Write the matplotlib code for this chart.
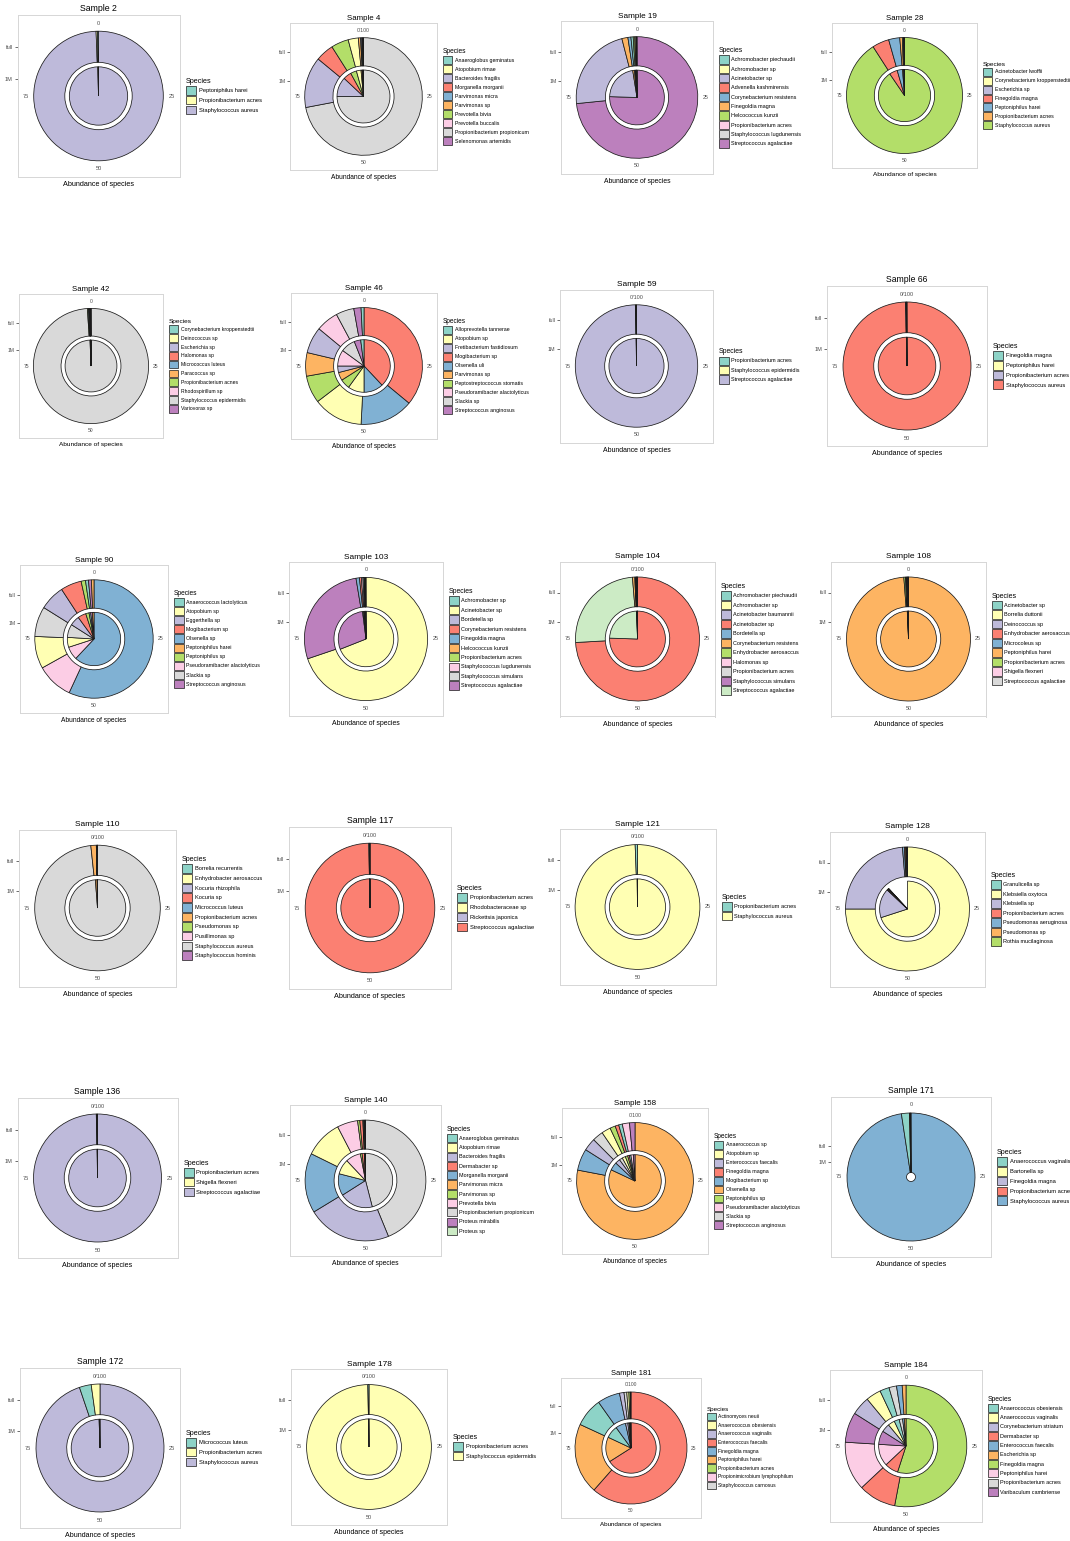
import matplotlib
matplotlib.use("Agg")
import matplotlib.pyplot as plt
from matplotlib.patches import Patch

plt.rcParams['font.family'] = ['Liberation Sans', 'DejaVu Sans']

FIG_W, FIG_H, DPI = 1070, 1541, 100
SET3 = ["#8DD3C7", "#FFFFB3", "#BEBADA", "#FB8072", "#80B1D3", "#FDB462",
        "#B3DE69", "#FCCDE5", "#D9D9D9", "#BC80BD", "#CCEBC5", "#FFED6F"]

# Species of every sample, listed in the clockwise stacking order, with the
# relative abundance (%) from the full run and from the 1M subsample.
species_2 = ["Staphylococcus aureus", "Propionibacterium acnes", "Peptoniphilus harei"]
full_2 = [99.4, 0.35, 0.25]
m1_2 = [99.6, 0.3, 0.1]
top_2 = "0"

species_4 = ["Propionibacterium propionicum", "Bacteroides fragilis", "Morganella morganii",
             "Prevotella bivia", "Atopobium rimae", "Parvimonas sp", "Parvimonas micra",
             "Prevotella buccalis", "Anaeroglobus geminatus", "Selenomonas artemidis"]
full_4 = [72.0, 14.0, 5.0, 4.8, 2.8, 0.6, 0.3, 0.2, 0.2, 0.1]
m1_4 = [75.0, 12.0, 5.0, 3.7, 2.8, 0.7, 0.3, 0.2, 0.2, 0.1]
top_4 = "0/100"

species_19 = ["Streptococcus agalactiae", "Acinetobacter sp", "Finegoldia magna",
              "Corynebacterium resistens", "Achromobacter piechaudii", "Helcococcus kunzii",
              "Achromobacter sp", "Propionibacterium acnes", "Staphylococcus lugdunensis",
              "Advenella kashmirensis"]
full_19 = [73.4, 22.6, 1.6, 0.8, 0.6, 0.4, 0.3, 0.2, 0.1, 0.0]
m1_19 = [75.5, 22.0, 1.0, 0.5, 0.4, 0.2, 0.2, 0.1, 0.1, 0.0]
top_19 = "0"

species_28 = ["Staphylococcus aureus", "Finegoldia magna", "Peptoniphilus harei",
              "Propionibacterium acnes", "Acinetobacter lwoffii",
              "Corynebacterium kroppenstedtii", "Escherichia sp"]
full_28 = [90.9, 4.7, 3.1, 0.7, 0.3, 0.2, 0.1]
m1_28 = [90.5, 5.0, 3.3, 0.7, 0.3, 0.1, 0.1]
top_28 = "0"

species_42 = ["Staphylococcus epidermidis", "Propionibacterium acnes", "Micrococcus luteus",
              "Corynebacterium kroppenstedtii", "Deinococcus sp", "Escherichia sp",
              "Halomonas sp", "Paracoccus sp", "Rhodospirillum sp", "Variovorax sp"]
full_42 = [99.0, 0.3, 0.2, 0.1, 0.1, 0.1, 0.05, 0.05, 0.05, 0.05]
m1_42 = [99.4, 0.2, 0.1, 0.1, 0.05, 0.05, 0.05, 0.05, 0.0, 0.0]
top_42 = "0"

species_46 = ["Mogibacterium sp", "Olsenella uli", "Atopobium sp", "Peptostreptococcus stomatis",
              "Parvimonas sp", "Fretibacterium fastidiosum", "Pseudoramibacter alactolyticus",
              "Slackia sp", "Streptococcus anginosus", "Alloprevotella tannerae"]
full_46 = [36.0, 14.8, 13.8, 7.6, 6.5, 7.3, 6.2, 5.0, 2.0, 0.8]
m1_46 = [38.0, 12.0, 10.0, 6.0, 5.0, 4.0, 10.0, 9.0, 4.0, 2.0]
top_46 = "0"

species_59 = ["Streptococcus agalactiae", "Propionibacterium acnes", "Staphylococcus epidermidis"]
full_59 = [99.7, 0.2, 0.1]
m1_59 = [99.8, 0.1, 0.1]
top_59 = "0/100"

species_66 = ["Staphylococcus aureus", "Propionibacterium acnes", "Finegoldia magna",
              "Peptoniphilus harei"]
full_66 = [99.6, 0.2, 0.1, 0.1]
m1_66 = [99.7, 0.1, 0.1, 0.1]
top_66 = "0/100"

species_90 = ["Olsenella sp", "Pseudoramibacter alactolyticus", "Atopobium sp", "Slackia sp",
              "Eggerthella sp", "Mogibacterium sp", "Peptoniphilus sp",
              "Anaerococcus lactolyticus", "Streptococcus anginosus", "Peptoniphilus harei"]
full_90 = [56.9, 10.0, 8.8, 8.2, 6.9, 5.7, 1.2, 0.8, 0.8, 0.7]
m1_90 = [62.0, 8.0, 6.0, 8.0, 6.0, 5.0, 2.0, 1.0, 1.0, 1.0]
top_90 = "0"

species_103 = ["Acinetobacter sp", "Streptococcus agalactiae", "Finegoldia magna",
               "Corynebacterium resistens", "Staphylococcus lugdunensis", "Achromobacter sp",
               "Bordetella sp", "Helcococcus kunzii", "Propionibacterium acnes",
               "Staphylococcus simulans"]
full_103 = [69.8, 27.6, 0.9, 0.5, 0.4, 0.3, 0.2, 0.1, 0.1, 0.1]
m1_103 = [69.0, 29.0, 0.6, 0.4, 0.3, 0.2, 0.2, 0.1, 0.1, 0.1]
top_103 = "0"

species_104 = ["Acinetobacter sp", "Streptococcus agalactiae", "Corynebacterium resistens",
               "Achromobacter piechaudii", "Bordetella sp", "Propionibacterium acnes",
               "Halomonas sp", "Achromobacter sp", "Acinetobacter baumannii",
               "Enhydrobacter aerosaccus", "Staphylococcus simulans"]
full_104 = [74.1, 24.6, 0.6, 0.2, 0.1, 0.1, 0.1, 0.05, 0.05, 0.05, 0.05]
m1_104 = [75.5, 24.0, 0.2, 0.1, 0.05, 0.05, 0.05, 0.0, 0.0, 0.05, 0.0]
top_104 = "0/100"

species_108 = ["Peptoniphilus harei", "Propionibacterium acnes", "Acinetobacter sp",
               "Streptococcus agalactiae", "Borrelia duttonii", "Deinococcus sp",
               "Enhydrobacter aerosaccus", "Microcoleus sp", "Shigella flexneri"]
full_108 = [98.8, 0.4, 0.2, 0.2, 0.1, 0.1, 0.1, 0.05, 0.05]
m1_108 = [99.3, 0.3, 0.1, 0.1, 0.05, 0.05, 0.05, 0.05, 0.0]
top_108 = "0"

species_110 = ["Staphylococcus aureus", "Propionibacterium acnes", "Micrococcus luteus",
               "Kocuria sp", "Kocuria rhizophila", "Staphylococcus hominis", "Pseudomonas sp",
               "Pusillimonas sp", "Enhydrobacter aerosaccus", "Borrelia recurrentis"]
full_110 = [98.3, 1.4, 0.1, 0.05, 0.05, 0.04, 0.02, 0.02, 0.01, 0.01]
m1_110 = [98.8, 1.0, 0.1, 0.05, 0.05, 0.0, 0.0, 0.0, 0.0, 0.0]
top_110 = "0/100"

species_117 = ["Streptococcus agalactiae", "Propionibacterium acnes", "Rhodobacteraceae sp",
               "Rickettsia japonica"]
full_117 = [99.7, 0.15, 0.1, 0.05]
m1_117 = [99.8, 0.1, 0.05, 0.05]
top_117 = "0/100"

species_121 = ["Staphylococcus aureus", "Propionibacterium acnes"]
full_121 = [99.4, 0.6]
m1_121 = [99.8, 0.2]
top_121 = "0/100"

species_128 = ["Klebsiella oxytoca", "Klebsiella sp", "Pseudomonas aeruginosa",
               "Propionibacterium acnes", "Pseudomonas sp", "Granulicella sp",
               "Rothia mucilaginosa"]
full_128 = [75.0, 23.7, 0.5, 0.3, 0.2, 0.2, 0.1]
m1_128 = [70.0, 17.0, 0.3, 0.5, 0.3, 0.0, 0.1]
top_128 = "0"

species_136 = ["Streptococcus agalactiae", "Propionibacterium acnes", "Shigella flexneri"]
full_136 = [99.7, 0.2, 0.1]
m1_136 = [99.8, 0.1, 0.1]
top_136 = "0/100"

species_140 = ["Propionibacterium propionicum", "Bacteroides fragilis", "Morganella morganii",
               "Atopobium rimae", "Prevotella bivia", "Parvimonas sp", "Dermabacter sp",
               "Parvimonas micra", "Anaeroglobus geminatus", "Proteus sp", "Proteus mirabilis"]
full_140 = [43.8, 22.5, 16.0, 10.1, 5.5, 0.6, 0.8, 0.2, 0.2, 0.2, 0.1]
m1_140 = [46.0, 20.0, 13.0, 9.0, 9.0, 1.0, 1.5, 0.2, 0.1, 0.1, 0.1]
top_140 = "0"

species_158 = ["Olsenella sp", "Mogibacterium sp", "Enterococcus faecalis", "Slackia sp",
               "Atopobium sp", "Peptoniphilus sp", "Finegoldia magna", "Anaerococcus sp",
               "Pseudoramibacter alactolyticus", "Streptococcus anginosus"]
full_158 = [78.0, 6.0, 3.5, 3.0, 2.5, 1.5, 1.0, 1.0, 2.0, 1.5]
m1_158 = [82.0, 5.0, 3.0, 2.0, 2.0, 1.5, 1.0, 1.0, 1.5, 1.0]
top_158 = "0/100"

species_171 = ["Staphylococcus aureus", "Anaerococcus vaginalis", "Propionibacterium acnes",
               "Finegoldia magna", "Bartonella sp"]
full_171 = [97.6, 2.0, 0.2, 0.1, 0.1]
m1_171 = []
top_171 = "0"

species_172 = ["Staphylococcus aureus", "Micrococcus luteus", "Propionibacterium acnes"]
full_172 = [94.8, 3.0, 2.2]
m1_172 = [99.5, 0.3, 0.2]
top_172 = "0/100"

species_178 = ["Staphylococcus epidermidis", "Propionibacterium acnes"]
full_178 = [99.7, 0.3]
m1_178 = [99.8, 0.2]
top_178 = "0/100"

species_181 = ["Enterococcus faecalis", "Peptoniphilus harei", "Actinomyces neuii",
               "Finegoldia magna", "Anaerococcus vaginalis", "Staphylococcus carnosus",
               "Anaerococcus obesiensis", "Propionibacterium acnes",
               "Propionimicrobium lymphophilum"]
full_181 = [61.5, 20.4, 8.3, 6.5, 1.3, 0.8, 0.6, 0.4, 0.2]
m1_181 = [66.0, 16.0, 8.0, 6.5, 1.5, 0.8, 0.6, 0.4, 0.2]
top_181 = "0/100"

species_184 = ["Finegoldia magna", "Dermabacter sp", "Peptoniphilus harei",
               "Varibaculum cambriense", "Corynebacterium striatum", "Anaerococcus vaginalis",
               "Anaerococcus obesiensis", "Propionibacterium acnes", "Enterococcus faecalis",
               "Escherichia sp"]
full_184 = [53.0, 10.0, 13.0, 8.0, 5.0, 4.0, 2.5, 2.0, 1.5, 1.0]
m1_184 = [55.0, 8.0, 13.0, 8.0, 5.0, 4.0, 3.0, 2.0, 1.0, 1.0]
top_184 = "0"

SAMPLES = [
    (2, species_2, full_2, m1_2, top_2),
    (4, species_4, full_4, m1_4, top_4),
    (19, species_19, full_19, m1_19, top_19),
    (28, species_28, full_28, m1_28, top_28),
    (42, species_42, full_42, m1_42, top_42),
    (46, species_46, full_46, m1_46, top_46),
    (59, species_59, full_59, m1_59, top_59),
    (66, species_66, full_66, m1_66, top_66),
    (90, species_90, full_90, m1_90, top_90),
    (103, species_103, full_103, m1_103, top_103),
    (104, species_104, full_104, m1_104, top_104),
    (108, species_108, full_108, m1_108, top_108),
    (110, species_110, full_110, m1_110, top_110),
    (117, species_117, full_117, m1_117, top_117),
    (121, species_121, full_121, m1_121, top_121),
    (128, species_128, full_128, m1_128, top_128),
    (136, species_136, full_136, m1_136, top_136),
    (140, species_140, full_140, m1_140, top_140),
    (158, species_158, full_158, m1_158, top_158),
    (171, species_171, full_171, m1_171, top_171),
    (172, species_172, full_172, m1_172, top_172),
    (178, species_178, full_178, m1_178, top_178),
    (181, species_181, full_181, m1_181, top_181),
    (184, species_184, full_184, m1_184, top_184),
]

# Panel placement on the page: centre x, centre y and side length, in pixels.
PANEL = {
    2: (98.5, 96, 162), 4: (363.5, 96.5, 147), 19: (637, 97.5, 152), 28: (904.5, 95.5, 145),
    42: (91, 366, 144), 46: (364, 366, 146), 59: (636.5, 366, 153), 66: (907, 366, 160),
    90: (94, 639, 148), 103: (366, 639, 154), 104: (637.5, 639, 155), 108: (908.5, 639, 155),
    110: (97.5, 908, 157), 117: (370, 908, 162), 121: (637.5, 907, 156), 128: (907.5, 909, 155),
    136: (97.5, 1178, 160), 140: (365.5, 1180.5, 151), 158: (635, 1181, 146),
    171: (911, 1177, 160),
    172: (100, 1448, 160), 178: (369, 1447, 156), 181: (631, 1448, 140), 184: (906, 1446, 152),
}

EDGE = dict(edgecolor="#1A1A1A", linewidth=0.55)
TEXT_GREY = "#4D4D4D"


def ring(ax, species, values, colour, radius, width):
    keep = [i for i, v in enumerate(values) if v > 0]
    vals = [values[i] for i in keep]
    total = sum(vals)
    complete = total >= 99.95
    fr = vals if complete else [v / 100.0 for v in vals]
    ax.pie(fr, colors=[colour[species[i]] for i in keep],
           radius=radius, startangle=90, counterclock=False, normalize=complete,
           wedgeprops=dict(width=width, **EDGE), frame=True)


def draw_panel(fig, sample, species, full, m1, top_label):
    cx, cy, size = PANEL[sample]
    k = size / 155.0
    ax = fig.add_axes([(cx - size / 2) / FIG_W, 1 - (cy + size / 2) / FIG_H,
                       size / FIG_W, size / FIG_H])
    legend_order = sorted(species)
    colour = {sp: SET3[i] for i, sp in enumerate(legend_order)}

    if m1:
        ring(ax, species, full, colour, 1.0, 0.48)
        ring(ax, species, m1, colour, 0.45, 0.45)
        ticks = [0.27, 0.75]
    else:
        ring(ax, species, full, colour, 1.0, 0.93)
        ticks = [0.23, 0.49]

    ax.set_aspect("equal")
    ax.set_xlim(-1.25, 1.25)
    ax.set_ylim(-1.25, 1.25)
    ax.set_facecolor("white")
    for sp in ax.spines.values():
        sp.set_color("#D6D6D6")
        sp.set_linewidth(0.7)

    # angular labels of the percentage scale
    fs = 3.9 * k
    r = 1.125
    for x, y, t in [(0, r, top_label), (r, 0, "25"), (0, -r, "50"), (-r, 0, "75")]:
        ax.text(x, y, t, ha="center", va="center", fontsize=fs, color=TEXT_GREY)

    ax.set_xticks([])
    ax.set_yticks(ticks)
    ax.set_yticklabels(["1M", "full"])
    ax.tick_params(axis="y", length=2 * k, width=0.5, color="#333333",
                   labelsize=fs, labelcolor=TEXT_GREY, pad=1.2)

    ax.set_title(f"Sample {sample}", fontsize=6.0 * k, pad=2.5 * k)
    ax.set_xlabel("Abundance of species", fontsize=5.0 * k, labelpad=3 * k)

    handles = [Patch(facecolor=colour[sp], edgecolor="#1A1A1A", linewidth=0.5, label=sp)
               for sp in legend_order]
    ax.legend(handles=handles, title="Species", loc="center left",
              bbox_to_anchor=(1 + 6 / size, 0.5), frameon=False,
              fontsize=4.0 * k, title_fontsize=5.0 * k,
              handlelength=1.8, handleheight=1.95, labelspacing=0.2,
              handletextpad=0.45, borderpad=0, borderaxespad=0, alignment="left")


fig = plt.figure(figsize=(FIG_W / DPI, FIG_H / DPI), dpi=DPI, facecolor="white")
for sample, species, full, m1, top in SAMPLES:
    draw_panel(fig, sample, species, full, m1, top)

fig.savefig("out.png", dpi=DPI, facecolor="white")
